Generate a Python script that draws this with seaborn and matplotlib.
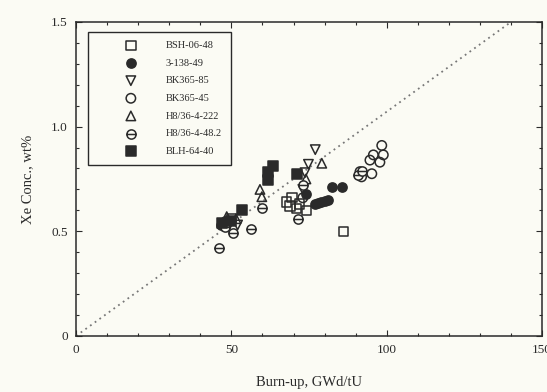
import numpy as np
import pandas as pd
import matplotlib
matplotlib.use("Agg")
import matplotlib.pyplot as plt
from matplotlib.path import Path
from matplotlib.ticker import MultipleLocator
import seaborn as sns

# ---- data ----
series_names = ["BSH-06-48", "3-138-49", "BK365-85", "BK365-45",
                "H8/36-4-222", "H8/36-4-48.2", "BLH-64-40"]

bsh_x = [67.8, 68.9, 71.0, 74.2, 69.5, 86.0, 50.0, 72.0]
bsh_y = [0.64, 0.62, 0.61, 0.60, 0.66, 0.50, 0.56, 0.63]

s3138_x = [82.3, 85.5, 77.0, 78.0, 79.0, 80.0, 81.0, 46.5, 48.0, 74.0]
s3138_y = [0.71, 0.71, 0.63, 0.635, 0.64, 0.645, 0.65, 0.53, 0.55, 0.68]

bk85_x = [77.0, 74.8, 73.7, 49.0, 52.0, 73.0]
bk85_y = [0.89, 0.82, 0.78, 0.52, 0.53, 0.70]

bk45_x = [98.4, 95.7, 98.9, 94.6, 97.8, 91.4, 95.2, 91.9, 73.0]
bk45_y = [0.91, 0.865, 0.865, 0.84, 0.83, 0.785, 0.775, 0.76, 0.66]

h222_x = [79.1, 59.2, 59.8, 74.0, 51.5, 48.5]
h222_y = [0.825, 0.70, 0.665, 0.75, 0.56, 0.57]

h482_x = [46.1, 56.2, 50.6, 60.0, 71.6, 90.8, 92.0, 73.0, 48.0]
h482_y = [0.42, 0.51, 0.49, 0.61, 0.56, 0.77, 0.79, 0.72, 0.52]

blh_x = [63.5, 61.9, 61.9, 71.0, 53.5, 47.0, 50.0]
blh_y = [0.81, 0.785, 0.745, 0.775, 0.60, 0.54, 0.55]

line_x = [0, 140]
line_y = [0, 1.5]

x_ticks = [0, 50, 100, 150]
y_ticks = [0, 0.5, 1.0, 1.5]
y_tick_labels = ["0", "0.5", "1.0", "1.5"]

# ---- styling ----
sns.set_style("ticks")
plt.rcParams["font.family"] = ["Liberation Serif", "DejaVu Serif"]
ink = "#2a2a2a"
bg = "#fbfbf4"

# circle with horizontal bar marker
circ = Path.unit_circle()
bar = Path([(-1, 0), (1, 0)], [Path.MOVETO, Path.LINETO])
ominus = Path.make_compound_path(circ, bar)

xs = [bsh_x, s3138_x, bk85_x, bk45_x, h222_x, h482_x, blh_x]
ys = [bsh_y, s3138_y, bk85_y, bk45_y, h222_y, h482_y, blh_y]
markers = ["s", "o", "v", "o", "^", ominus, "s"]
faces = ["none", ink, "none", "none", "none", bg, ink]
sizes = [46, 44, 46, 46, 46, 44, 46]

fig = plt.figure(figsize=(5.47, 3.92), dpi=100, facecolor=bg)
ax = fig.add_axes([0.139, 0.143, 0.852, 0.801])
ax.set_facecolor(bg)

sns.lineplot(x=line_x, y=line_y, ax=ax, color="#777777", linestyle=(0, (1, 2.2)),
             linewidth=1.3, legend=False)

for name, x, y, m, fc, s in zip(series_names, xs, ys, markers, faces, sizes):
    df = pd.DataFrame({"x": x, "y": y})
    sns.scatterplot(data=df, x="x", y="y", ax=ax, marker=m, s=s,
                    color=ink, facecolor=fc, edgecolor=ink, linewidth=1.1,
                    label=name, zorder=3)

ax.set_xlim(0, 150)
ax.set_ylim(0, 1.5)
ax.set_xticks(x_ticks)
ax.set_xticklabels([str(t) for t in x_ticks])
ax.set_yticks(y_ticks)
ax.set_yticklabels(y_tick_labels)
ax.xaxis.set_minor_locator(MultipleLocator(10))
ax.yaxis.set_minor_locator(MultipleLocator(0.1))
ax.tick_params(which="both", direction="in", top=True, right=True, colors=ink,
               labelsize=9.5, width=0.8)
ax.tick_params(which="major", length=4, pad=6)
ax.tick_params(which="minor", length=2.5)
for sp in ax.spines.values():
    sp.set_visible(True)
    sp.set_color(ink)
    sp.set_linewidth(1.1)

ax.set_xlabel("Burn-up, GWd/tU", fontsize=10.5, color=ink, labelpad=14)
ax.set_ylabel("Xe Conc., wt%", fontsize=10.5, color=ink, labelpad=12)

leg = ax.legend(loc="upper left", bbox_to_anchor=(0.026, 0.968), fontsize=7.5,
                frameon=True, fancybox=False, edgecolor=ink, facecolor=bg,
                framealpha=1, handlelength=6.5, handletextpad=0.1,
                borderpad=0.85, labelspacing=0.8, borderaxespad=0,
                markerscale=1.0)
leg.get_frame().set_linewidth(1.0)
for t in leg.get_texts():
    t.set_color(ink)

fig.savefig("out.png", dpi=100, facecolor=bg)
